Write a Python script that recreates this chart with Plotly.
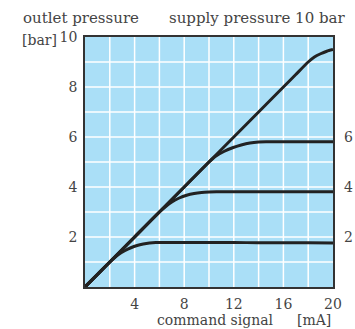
import plotly.graph_objects as go

# 10 bar supply (straight diagonal, bending near top)
x10 = [0, 2, 4, 6, 8, 10, 12, 14, 16, 17, 18, 18.5, 19, 19.5, 20]
y10 = [0, 1.0, 2.0, 3.0, 4.0, 5.0, 6.0, 7.0, 8.0, 8.5, 9.0, 9.2, 9.33, 9.43, 9.5]

# 2 bar saturation curve
x2 = [0, 1, 2, 2.7, 3.2, 3.7, 4.2, 4.7, 5.2, 5.7, 6.2, 8, 10, 12, 14, 16, 18, 20]
y2 = [0, 0.5, 1.0, 1.3, 1.45, 1.57, 1.66, 1.72, 1.76, 1.78, 1.78, 1.78, 1.78, 1.78, 1.77, 1.77, 1.77, 1.76]

# 4 bar saturation curve
x4 = [0, 2, 4, 6, 7, 7.6, 8.2, 8.8, 9.4, 10, 10.6, 12, 14, 16, 18, 20]
y4 = [0, 1.0, 2.0, 3.0, 3.4, 3.56, 3.67, 3.74, 3.78, 3.8, 3.81, 3.81, 3.81, 3.81, 3.81, 3.81]

# 6 bar saturation curve
x6 = [0, 2, 4, 6, 8, 10, 10.5, 11.2, 11.9, 12.6, 13.3, 14, 14.6, 16, 18, 20]
y6 = [0, 1.0, 2.0, 3.0, 4.0, 5.0, 5.22, 5.42, 5.57, 5.68, 5.76, 5.8, 5.81, 5.81, 5.81, 5.81]

x_ticks = [4, 8, 12, 16, 20]
y_ticks = [2, 4, 6, 8, 10]
right_labels = [2, 4, 6]

line_color = "#222222"
text_color = "#444444"
font_family = "DejaVu Serif, Liberation Serif, serif"
fs = 14

fig = go.Figure()
for xs, ys in [(x2, y2), (x4, y4), (x6, y6), (x10, y10)]:
    fig.add_trace(go.Scatter(x=xs, y=ys, mode="lines",
                             line=dict(color=line_color, width=3, shape="spline", smoothing=0.6),
                             showlegend=False, hoverinfo="skip"))

fig.update_layout(
    width=355, height=329,
    margin=dict(l=85, r=22, t=37, b=42),
    paper_bgcolor="white",
    plot_bgcolor="#aadff7",
    font=dict(family=font_family, size=fs, color=text_color),
    xaxis=dict(range=[0, 20], tickvals=x_ticks, ticktext=[str(v) for v in x_ticks],
               showgrid=False, zeroline=False, showline=True, linecolor="#333333",
               linewidth=1.5, mirror=True, ticks="", tickfont=dict(size=fs),
               ticklabelstandoff=3, fixedrange=True),
    yaxis=dict(range=[0, 10], tickvals=y_ticks, ticktext=[str(v) for v in y_ticks],
               showgrid=False, zeroline=False, showline=True, linecolor="#333333",
               linewidth=1.5, mirror=True, ticks="", ticklabelstandoff=3,
               tickfont=dict(size=fs), fixedrange=True),
)

# grid lines: vertical every 2, horizontal every 1
shapes = []
for gx in range(2, 20, 2):
    shapes.append(dict(type="line", xref="x", yref="y", x0=gx, x1=gx, y0=0, y1=10,
                       line=dict(color="white", width=1.5), layer="below"))
for gy in range(1, 10):
    shapes.append(dict(type="line", xref="x", yref="y", x0=0, x1=20, y0=gy, y1=gy,
                       line=dict(color="white", width=1.5), layer="below"))
fig.update_layout(shapes=shapes)

ann = [
    dict(text="outlet pressure", x=21, y=18, xanchor="left", size=15),
    dict(text="supply pressure 10 bar", x=167, y=18, xanchor="left", size=15),
    dict(text="[bar]", x=59, y=40, xanchor="right", size=fs),
    dict(text="command signal", x=155, y=320, xanchor="left", size=fs),
    dict(text="[mA]", x=295, y=320, xanchor="left", size=fs),
]
annotations = []
for a in ann:
    annotations.append(dict(text=a["text"], x=(a["x"] - 85) / 248, y=(329 - 42 - a["y"]) / 250,
                            xref="paper", yref="paper", xanchor=a["xanchor"], yanchor="middle",
                            showarrow=False, font=dict(size=a["size"], color=text_color)))
for v in right_labels:
    annotations.append(dict(text=str(v), x=(348 - 85) / 248, y=v, xref="paper", yref="y",
                            xanchor="center", yanchor="middle", showarrow=False,
                            font=dict(size=fs, color=text_color)))
fig.update_layout(annotations=annotations)

fig.write_html("out.html")
